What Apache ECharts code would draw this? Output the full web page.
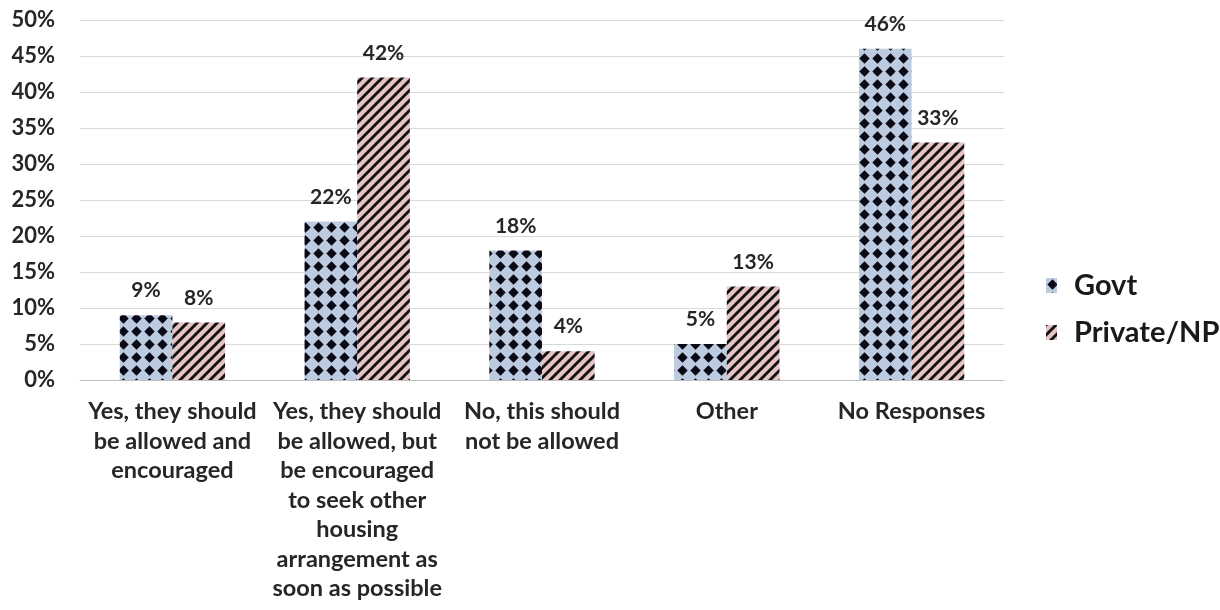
<!DOCTYPE html>
<html>
<head>
<meta charset="utf-8">
<script src="https://cdn.jsdelivr.net/npm/echarts@6/dist/echarts.min.js"></script>
<style>
  html, body { margin: 0; padding: 0; background: #fff; }
  #chart { width: 1220px; height: 610px; }
</style>
</head>
<body>
<div id="chart"></div>
<script>
const categories = [
  'Yes, they should\nbe allowed and\nencouraged',
  'Yes, they should\nbe allowed, but\nbe encouraged\nto seek other\nhousing\narrangement as\nsoon as possible',
  'No, this should\nnot be allowed',
  'Other',
  'No Responses'
]
const govtValues = [9, 22, 18, 5, 46]
const privateValues = [8, 42, 4, 13, 33]
const yTicks = [0, 5, 10, 15, 20, 25, 30, 35, 40, 45, 50]

// diamond dots for Govt
const makeDiamonds = () => {
  const s = 13
  const c = document.createElement('canvas')
  c.width = s
  c.height = s
  const ctx = c.getContext('2d')
  ctx.fillStyle = '#bccbdf'
  ctx.fillRect(0, 0, s, s)
  ctx.fillStyle = '#0a0a16'
  const r = 5.2
  ctx.beginPath()
  ctx.moveTo(s / 2, s / 2 - r)
  ctx.lineTo(s / 2 + r, s / 2)
  ctx.lineTo(s / 2, s / 2 + r)
  ctx.lineTo(s / 2 - r, s / 2)
  ctx.closePath()
  ctx.fill()
  return c
}

// diagonal stripes for Private/NP
const makeStripes = () => {
  const s = 10
  const c = document.createElement('canvas')
  c.width = s
  c.height = s
  const ctx = c.getContext('2d')
  ctx.fillStyle = '#e6c4c4'
  ctx.fillRect(0, 0, s, s)
  ctx.strokeStyle = '#111'
  ctx.lineWidth = 2.9
  ctx.beginPath()
  for (let k = -1; k <= 1; k++) {
    ctx.moveTo(k * s - 1, s + 1)
    ctx.lineTo(k * s + s + 1, -1)
  }
  ctx.stroke()
  return c
}

const font = 'Lato, "Open Sans", sans-serif'
const textColor = '#262626'
const chart = echarts.init(document.getElementById('chart'))

const labelStyle = {
  show: true,
  position: 'top',
  distance: 14,
  formatter: (p) => p.value + '%',
  fontFamily: font,
  fontWeight: 'bold',
  fontSize: 21,
  color: textColor
}

chart.setOption({
  animation: false,
  grid: { left: 80, right: 216, top: 20, bottom: 230 },
  legend: {
    orient: 'vertical',
    left: 1041,
    top: 266,
    itemWidth: 11,
    itemHeight: 15,
    itemGap: 18,
    icon: 'rect',
    textStyle: { fontFamily: font, fontWeight: 'bold', fontSize: 29, color: '#1a1a1a', padding: [0, 0, 0, 12] },
    data: ['Govt', 'Private/NP']
  },
  xAxis: {
    type: 'category',
    data: categories,
    axisTick: { show: false },
    axisLine: { lineStyle: { color: '#bfbfbf' } },
    axisLabel: {
      interval: 0,
      margin: 17,
      fontFamily: font,
      fontWeight: 'bold',
      fontSize: 23.5,
      lineHeight: 29.5,
      color: textColor
    }
  },
  yAxis: {
    type: 'value',
    min: yTicks[0],
    max: yTicks[yTicks.length - 1],
    interval: 5,
    axisLine: { show: false },
    axisTick: { show: false },
    splitLine: { lineStyle: { color: '#d9d9d9' } },
    axisLabel: {
      margin: 25,
      formatter: '{value}%',
      fontFamily: font,
      fontWeight: 'bold',
      fontSize: 22,
      color: textColor
    }
  },
  series: [
    {
      name: 'Govt',
      type: 'bar',
      data: govtValues,
      barGap: '0%',
      barCategoryGap: '43%',
      itemStyle: { color: { image: makeDiamonds(), repeat: 'repeat' } },
      label: labelStyle
    },
    {
      name: 'Private/NP',
      type: 'bar',
      data: privateValues,
      itemStyle: { color: { image: makeStripes(), repeat: 'repeat' } },
      label: labelStyle
    }
  ]
})

window.addEventListener('resize', () => chart.resize())
</script>
</body>
</html>
